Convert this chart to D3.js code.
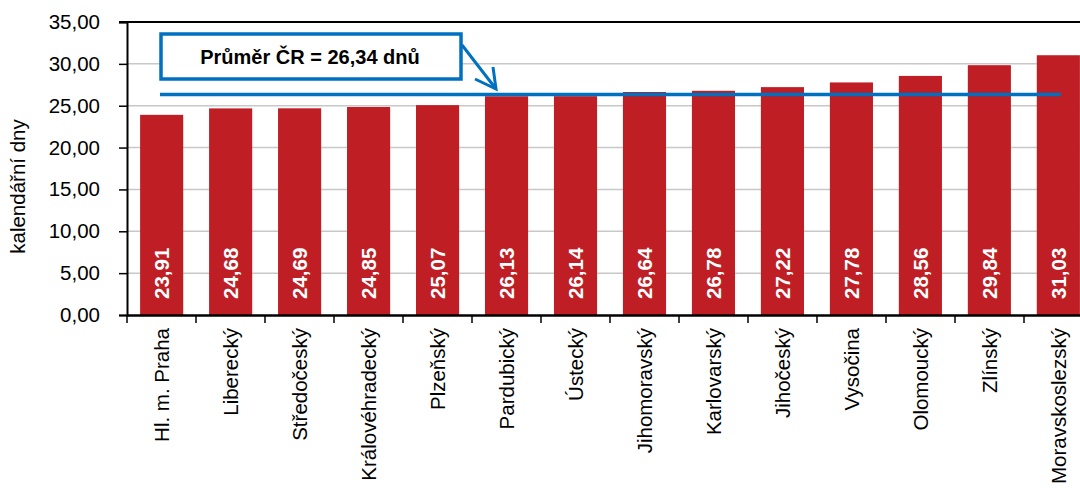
<!DOCTYPE html>
<html><head><meta charset="utf-8">
<script src="https://cdn.jsdelivr.net/npm/d3@7"></script>
<style>body{margin:0;background:#fff}svg{display:block;font-family:Arial,"Liberation Sans",sans-serif}</style>
</head><body><svg id="c" width="1080" height="488"></svg>
<script>
const categories = ["Hl. m. Praha","Liberecký","Středočeský","Královéhradecký","Plzeňský","Pardubický","Ústecký","Jihomoravský","Karlovarský","Jihočeský","Vysočina","Olomoucký","Zlínský","Moravskoslezský"];
const values = [23.91,24.68,24.69,24.85,25.07,26.13,26.14,26.64,26.78,27.22,27.78,28.56,29.84,31.03];
const average = 26.34;
const yTicks = [0,5,10,15,20,25,30,35];
const avgLabel = "Průměr ČR = 26,34 dnů";
const yTitle = "kalendářní dny";

const svg = d3.select("#c");
const L = 127, R = 1093, T = 22, B = 315;
const FS = 20.5;
const fmt = v => d3.format(".2f")(v).replace(".", ",");
const x = d3.scaleBand().domain(categories).range([L, R]).paddingInner(0.375).paddingOuter(0.19);
const xb = d3.scaleBand().domain(categories).range([L, R]);
const y = d3.scaleLinear().domain([0, 35]).range([B, T]);

// gridlines
svg.append("g").selectAll("line").data(yTicks.filter(d => d > 0 && d < 35)).join("line")
  .attr("x1", L).attr("x2", R).attr("y1", d => y(d)).attr("y2", d => y(d))
  .attr("stroke", "#c8c8c8").attr("stroke-width", 1.5);

// bars
svg.append("g").selectAll("rect").data(values).join("rect")
  .attr("x", (d, i) => x(categories[i])).attr("width", x.bandwidth())
  .attr("y", d => y(d)).attr("height", d => B - y(d))
  .attr("fill", "#be1e24");

// value labels
svg.append("g").selectAll("text").data(values).join("text")
  .attr("transform", (d, i) => `translate(${x(categories[i]) + x.bandwidth() / 2},${B - 16}) rotate(-90)`)
  .attr("dy", "0.36em").attr("fill", "#fff").attr("font-weight", "bold").attr("font-size", FS)
  .text(d => fmt(d));

// top border
svg.append("line").attr("x1", L - 8).attr("x2", R).attr("y1", T).attr("y2", T).attr("stroke", "#000").attr("stroke-width", 2);

// y axis
const ya = svg.append("g").attr("transform", `translate(${L},0)`)
  .call(d3.axisLeft(y).tickValues(yTicks).tickFormat(fmt).tickSize(8).tickPadding(19));
ya.select(".domain").attr("stroke", "#000").attr("stroke-width", 2);
ya.selectAll(".tick line").attr("stroke", "#000").attr("stroke-width", 1.5);
ya.selectAll("text").attr("font-size", FS).attr("fill", "#000").attr("font-family", "Arial,'Liberation Sans',sans-serif");

// x axis
const xa = svg.append("g").attr("transform", `translate(0,${B})`)
  .call(d3.axisBottom(xb).tickSize(0).tickFormat(""));
xa.select(".domain").attr("stroke", "#000").attr("stroke-width", 2.5);
svg.append("g").selectAll("line").data(d3.range(categories.length + 1)).join("line")
  .attr("x1", i => L + i * xb.step()).attr("x2", i => L + i * xb.step())
  .attr("y1", B).attr("y2", B + 8).attr("stroke", "#000").attr("stroke-width", 1.5);
svg.append("g").selectAll("text").data(categories).join("text")
  .attr("transform", d => `translate(${xb(d) + xb.bandwidth() / 2},${B + 13}) rotate(-90)`)
  .attr("dy", "0.36em").attr("text-anchor", "end").attr("font-size", FS).attr("fill", "#000")
  .text(d => d);

// y title
svg.append("text").attr("transform", `translate(25,${(T + B) / 2 + 18}) rotate(-90)`)
  .attr("text-anchor", "middle").attr("font-size", FS).attr("fill", "#000").text(yTitle);

// average line
svg.append("line").attr("x1", 160).attr("x2", x(categories[categories.length - 1]) + 24)
  .attr("y1", y(average)).attr("y2", y(average)).attr("stroke", "#0070c0").attr("stroke-width", 3.5);

// callout box
svg.append("rect").attr("x", 161).attr("y", 34).attr("width", 300).attr("height", 45)
  .attr("fill", "#fff").attr("stroke", "#0070c0").attr("stroke-width", 3.5);
svg.append("text").attr("x", 310).attr("y", 57).attr("dy", "0.36em").attr("text-anchor", "middle")
  .attr("font-size", 20).attr("font-weight", "bold").attr("fill", "#000").text(avgLabel);

// arrow
const ax0 = 462, ay0 = 45, ax1 = 496, ay1 = 89;
svg.append("line").attr("x1", ax0).attr("y1", ay0).attr("x2", ax1).attr("y2", ay1)
  .attr("stroke", "#0070c0").attr("stroke-width", 3);
svg.append("path").attr("d", `M${ax1 - 21},${ay1 - 10} L${ax1},${ay1} L${ax1 - 3},${ay1 - 22}`)
  .attr("fill", "none").attr("stroke", "#0070c0").attr("stroke-width", 3);
</script></body></html>
